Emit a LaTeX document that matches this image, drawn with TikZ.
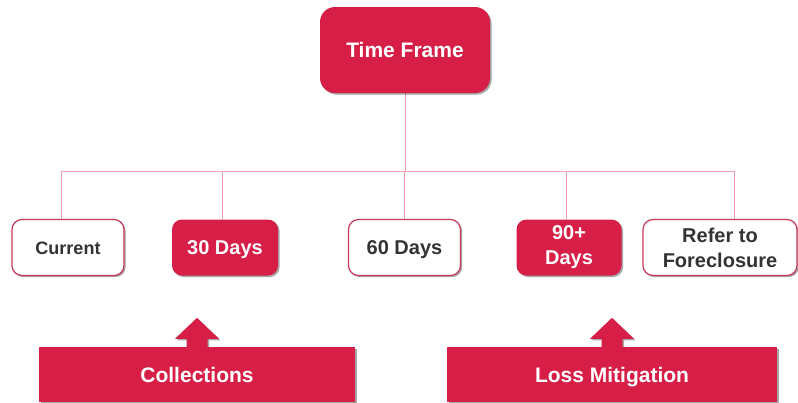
\documentclass[tikz,border=0pt]{standalone}
\usepackage{fontspec}
\setmainfont{Liberation Sans}
\usetikzlibrary{shadows,backgrounds}

\definecolor{framered}{HTML}{D61E47}
\definecolor{edgered}{HTML}{C8385A}
\definecolor{linkpink}{HTML}{F29AAE}
\definecolor{textgray}{HTML}{333333}

\tikzset{
  boxshadow/.style={drop shadow={shadow xshift=1.6pt,shadow yshift=-1.6pt,opacity=0.35,fill=black}},
  redbox/.style={fill=framered,text=white,rounded corners=10pt,boxshadow,
    minimum height=56pt,font=\fontsize{20}{25}\selectfont\bfseries,align=center},
  whitebox/.style={redbox,fill=white,draw=edgered,line width=1.2pt,text=textgray},
  oneline/.style={text height=14pt,text depth=0pt},
  groupbox/.style={fill=framered,text=white,boxshadow,minimum height=55pt,
    text height=15pt,text depth=0pt,font=\fontsize{21}{25}\selectfont\bfseries},
  link/.style={draw=linkpink,line width=1pt}
}

\begin{document}
\begin{tikzpicture}[x=1pt,y=-1pt]
  \node[redbox,rounded corners=15pt,minimum width=170pt,minimum height=86pt,font=\fontsize{21}{25}\selectfont\bfseries] at (405,50) (tf) {Time Frame};

  \node[whitebox,oneline,minimum width=112pt,font=\fontsize{18}{22}\selectfont\bfseries] at (68,247.5) (cur) {Current};
  \node[redbox,oneline,minimum width=106pt] at (225,247.5) (d30) {30 Days};
  \node[whitebox,oneline,minimum width=112pt] at (404.5,247.5) (d60) {60 Days};
  \node[redbox,minimum width=105pt] at (569,247.5) (d90) {90+\\Days};
  \node[whitebox,minimum width=154pt] at (720,247.5) (fcl) {Refer to\\Foreclosure};

  \node[groupbox,minimum width=316pt] at (197,374.5) (coll) {Collections};
  \node[groupbox,minimum width=330pt] at (612,374.5) (loss) {Loss Mitigation};

  % draw edges
  \coordinate (bus) at (405,171);
  \begin{pgfonlayer}{background}
    \draw[link] (tf.south) -- (bus);
    \foreach \n/\dx in {cur/-7,d30/-3,d60/0,d90/-3,fcl/14}
      \draw[link] ([xshift=\dx pt]\n.north) |- (bus);
    % arrows to the groups
    \foreach \n in {coll,loss}
      \fill[framered,boxshadow] ([xshift=-10.5pt]\n.north) -- ++(0,-8) -- ++(-11.5,0)
        -- ++(22,-21) -- ++(22,21) -- ++(-11.5,0) -- ++(0,8) -- cycle;
  \end{pgfonlayer}

  \pgfresetboundingbox
  \useasboundingbox (0,0) rectangle (798,402);
\end{tikzpicture}
\end{document}
